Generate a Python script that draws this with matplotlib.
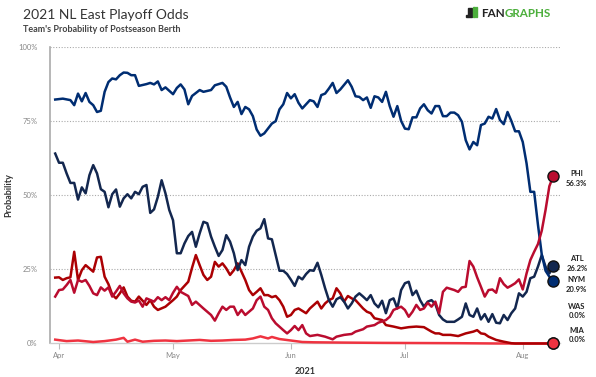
import matplotlib
matplotlib.use("Agg")
import matplotlib.pyplot as plt
import matplotlib.dates as mdates
import matplotlib.transforms as mtransforms
from matplotlib.patches import Rectangle
import numpy as np
import pandas as pd

plt.rcParams["font.family"] = ["Lato", "DejaVu Sans"]

SEASON_START = pd.Timestamp("2021-03-31")

# (days since Mar 31, playoff odds in %)
NYM = [(0, 82.2), (2, 82.5), (4, 82.0), (5, 80.3), (6, 84.2), (7, 81.6), (8, 84.4), (9, 81.4),
       (10, 80.3), (11, 78.0), (12, 78.4), (13, 84.8), (14, 88.1), (15, 89.3), (16, 89.0),
       (17, 90.4), (18, 91.3), (19, 91.2), (20, 90.4), (21, 90.4), (22, 86.8), (24, 87.4),
       (25, 87.8), (26, 87.3), (27, 88.3), (28, 85.4), (29, 86.3), (31, 84.0), (32, 86.1),
       (33, 87.3), (34, 85.6), (35, 80.6), (36, 83.4), (38, 85.4), (39, 84.8), (41, 85.4),
       (42, 87.0), (44, 87.8), (45, 86.5), (46, 82.9), (47, 79.7), (48, 81.4), (49, 77.3),
       (50, 79.7), (51, 78.9), (52, 76.6), (53, 72.1), (54, 70.0), (55, 70.8), (57, 74.1),
       (58, 74.9), (59, 78.9), (60, 80.6), (61, 84.4), (62, 82.6), (63, 84.0), (64, 81.1),
       (65, 79.2), (67, 82.0), (68, 81.6), (69, 79.7), (70, 83.7), (71, 84.2), (72, 85.9),
       (73, 87.8), (74, 84.4), (75, 85.6), (77, 88.7), (78, 86.5), (79, 83.3), (80, 83.1),
       (81, 82.0), (82, 82.9), (83, 79.4), (84, 83.3), (85, 82.9), (86, 81.4), (87, 84.8),
       (88, 80.0), (89, 76.4), (90, 80.0), (91, 75.0), (92, 72.4), (93, 72.2), (94, 76.2),
       (95, 76.2), (96, 79.2), (97, 80.6), (98, 78.6), (99, 77.5), (100, 80.0), (101, 80.0),
       (102, 76.6), (103, 76.6), (104, 77.8), (105, 77.8), (106, 76.9), (107, 74.7),
       (108, 68.5), (109, 65.4), (110, 67.9), (111, 66.8), (112, 73.6), (113, 74.1),
       (114, 76.4), (115, 75.8), (116, 79.0), (117, 75.3), (118, 73.9), (119, 78.0),
       (120, 75.0), (121, 71.5), (122, 71.5), (123, 67.9), (124, 60.7), (125, 51.1),
       (126, 51.1), (127, 40.0), (128, 30.0), (129, 24.5), (130, 22.5), (131, 20.9)]

ATL = [(0, 64.0), (1, 60.9), (2, 60.9), (3, 57.3), (4, 54.1), (5, 54.1), (6, 48.5), (7, 52.6),
       (8, 50.6), (9, 56.7), (10, 60.1), (11, 57.3), (12, 52.0), (13, 51.1), (14, 45.9),
       (15, 50.3), (16, 51.9), (17, 46.1), (18, 48.9), (19, 50.3), (20, 48.9), (21, 51.1),
       (22, 50.3), (23, 52.8), (24, 53.4), (25, 44.0), (26, 45.2), (27, 49.4), (28, 55.0),
       (29, 50.6), (30, 45.0), (31, 41.5), (32, 30.4), (33, 30.4), (34, 33.7), (35, 36.2),
       (36, 37.6), (37, 32.6), (38, 37.1), (39, 41.0), (40, 40.5), (41, 36.0), (42, 32.6),
       (43, 29.5), (44, 31.5), (45, 36.5), (46, 34.3), (47, 30.4), (48, 24.7), (49, 28.1),
       (50, 26.4), (51, 32.6), (52, 36.0), (53, 38.0), (54, 38.8), (55, 41.9), (56, 35.4),
       (57, 35.1), (58, 29.8), (59, 24.5), (60, 24.5), (61, 23.4), (62, 21.5), (63, 19.4),
       (64, 22.5), (65, 21.6), (66, 23.4), (67, 24.7), (68, 24.5), (69, 27.2), (70, 23.1),
       (71, 18.6), (72, 14.6), (73, 12.4), (74, 14.9), (75, 15.6), (76, 14.1), (77, 11.8),
       (78, 13.5), (79, 15.8), (80, 16.9), (81, 15.8), (82, 14.6), (83, 16.3), (84, 13.5),
       (85, 12.2), (86, 14.4), (87, 10.2), (88, 14.6), (89, 15.2), (90, 11.8), (91, 18.0),
       (92, 20.3), (93, 20.8), (94, 16.3), (95, 17.8), (96, 14.6), (97, 12.4), (98, 14.1),
       (99, 14.6), (100, 13.3), (101, 9.6), (102, 8.1), (103, 7.3), (104, 7.3), (105, 7.3),
       (106, 8.1), (107, 9.0), (108, 13.5), (109, 9.6), (110, 9.0), (111, 11.8), (112, 8.1),
       (113, 9.9), (114, 7.3), (115, 9.9), (116, 7.0), (117, 6.8), (118, 9.6), (119, 7.9),
       (120, 10.2), (121, 11.8), (122, 16.9), (123, 15.8), (124, 17.4), (125, 22.0),
       (126, 22.5), (127, 25.9), (128, 29.8), (129, 25.9), (130, 23.6), (131, 26.2)]

PHI = [(0, 15.8), (1, 18.0), (2, 18.2), (3, 19.7), (4, 21.4), (5, 17.1), (6, 21.4), (7, 20.8),
       (8, 21.4), (9, 19.4), (10, 16.9), (11, 16.3), (12, 18.9), (13, 17.8), (14, 18.9),
       (15, 15.8), (16, 17.5), (17, 19.4), (18, 16.9), (19, 15.2), (20, 14.1), (21, 13.8),
       (22, 14.5), (23, 12.4), (24, 15.2), (26, 14.1), (27, 15.6), (28, 14.6), (29, 15.6),
       (30, 14.6), (31, 17.1), (32, 19.1), (33, 17.4), (35, 16.0), (36, 13.0), (37, 14.1),
       (39, 11.8), (40, 10.7), (41, 9.6), (42, 7.7), (43, 10.2), (44, 12.4), (45, 11.3),
       (46, 12.4), (47, 12.4), (48, 9.6), (49, 11.3), (50, 9.6), (52, 11.8), (53, 14.6),
       (54, 15.8), (55, 12.4), (56, 11.3), (57, 8.5), (58, 6.8), (60, 4.5), (61, 3.4),
       (62, 4.5), (63, 5.9), (64, 4.5), (65, 6.2), (66, 3.4), (67, 2.5), (69, 2.9), (71, 2.3),
       (73, 1.4), (74, 2.3), (76, 2.9), (78, 3.2), (79, 4.0), (81, 4.8), (82, 5.7), (84, 6.2),
       (85, 7.0), (87, 7.9), (88, 9.0), (89, 11.3), (91, 12.4), (92, 11.3), (93, 9.0),
       (94, 10.7), (95, 13.0), (96, 11.3), (97, 11.8), (98, 13.7), (99, 12.4), (100, 14.1),
       (101, 10.2), (102, 17.4), (103, 18.8), (105, 18.0), (106, 17.4), (107, 18.9),
       (108, 19.1), (109, 27.8), (110, 25.9), (111, 22.3), (112, 19.1), (113, 15.8),
       (114, 18.0), (115, 18.2), (116, 17.1), (117, 22.0), (118, 20.0), (119, 18.8),
       (120, 19.5), (121, 20.3), (122, 21.6), (123, 18.2), (124, 23.6), (125, 28.1),
       (126, 30.9), (127, 33.5), (128, 38.0), (129, 45.0), (130, 53.0), (131, 56.3)]

WAS = [(0, 22.2), (1, 22.3), (2, 21.4), (3, 22.0), (4, 22.3), (5, 30.9), (6, 21.4), (7, 24.7),
       (8, 26.4), (9, 25.3), (10, 24.2), (11, 29.0), (12, 29.2), (13, 22.5), (14, 20.0),
       (15, 16.5), (16, 15.2), (17, 16.9), (18, 18.9), (19, 15.8), (20, 14.4), (21, 14.1),
       (22, 15.8), (24, 13.0), (25, 14.6), (26, 12.4), (27, 11.3), (29, 12.4), (31, 14.6),
       (32, 15.8), (33, 18.0), (35, 20.8), (36, 25.5), (37, 29.8), (38, 26.4), (39, 23.1),
       (40, 21.4), (41, 22.5), (42, 27.5), (43, 25.9), (44, 27.0), (45, 25.3), (46, 23.1),
       (47, 24.7), (48, 27.0), (49, 24.2), (50, 21.4), (51, 18.0), (52, 16.3), (53, 17.4),
       (54, 18.6), (55, 16.3), (56, 16.3), (57, 15.6), (58, 16.0), (59, 14.6), (60, 12.4),
       (61, 9.0), (62, 9.6), (63, 11.3), (64, 11.8), (66, 10.2), (67, 11.8), (69, 14.1),
       (70, 11.8), (71, 13.5), (72, 14.6), (73, 15.2), (74, 18.6), (75, 16.9), (76, 14.1),
       (77, 16.0), (78, 15.2), (79, 14.6), (81, 11.8), (82, 10.7), (83, 10.2), (84, 8.5),
       (86, 7.9), (87, 6.2), (89, 5.7), (91, 5.1), (93, 5.5), (95, 5.7), (97, 5.5), (99, 4.0),
       (100, 3.4), (101, 3.4), (102, 2.9), (104, 2.9), (106, 2.5), (108, 3.4), (110, 4.0),
       (111, 4.5), (112, 3.4), (113, 3.2), (114, 2.3), (116, 1.2), (118, 0.6), (120, 0.1),
       (121, 0.0), (131, 0.0)]

MIA = [(0, 1.3), (3, 0.8), (6, 1.0), (10, 0.5), (13, 0.8), (16, 1.3), (18, 1.9), (19, 0.6),
       (21, 1.3), (23, 0.6), (26, 0.9), (29, 1.0), (32, 0.8), (35, 1.0), (38, 1.2), (41, 0.9),
       (44, 1.0), (47, 1.2), (50, 1.3), (52, 1.7), (54, 2.4), (56, 1.7), (57, 2.2), (59, 1.5),
       (62, 1.0), (65, 0.5), (68, 0.4), (76, 0.3), (86, 0.2), (106, 0.1), (116, 0.0), (131, 0.0)]

TEAMS = ["PHI", "ATL", "NYM", "WAS", "MIA"]
SERIES = {"PHI": PHI, "ATL": ATL, "NYM": NYM, "WAS": WAS, "MIA": MIA}
COLORS = {"PHI": "#BA0C2F", "ATL": "#13274F", "NYM": "#002D72",
          "WAS": "#AB0003", "MIA": "#EF3340"}
FINAL = ["56.3%", "26.2%", "20.9%", "0.0%", "0.0%"]
# label centres, nudged apart so they don't collide
LABEL_Y = [55.7, 26.9, 19.8, 10.9, 2.9]

MONTHS = ["2021-04-01", "2021-05-01", "2021-06-01", "2021-07-01", "2021-08-01"]
MONTH_LABELS = ["Apr", "May", "Jun", "Jul", "Aug"]

GREEN = "#4CAF3C"


def to_xy(pairs):
    days = np.array([p[0] for p in pairs], dtype=float)
    vals = np.array([p[1] for p in pairs], dtype=float)
    return mdates.date2num(SEASON_START) + days, vals


fig = plt.figure(figsize=(5.96, 3.77), dpi=100)
ax = fig.add_axes([0.0839, 0.0889, 0.8557, 0.7872])

# draw from the bottom of the standings up
for team in ["MIA", "WAS", "ATL", "NYM", "PHI"]:
    x, y = to_xy(SERIES[team])
    ax.plot(x, y, color=COLORS[team], lw=1.8, solid_joinstyle="round",
            clip_on=False, zorder=3)

for team in ["PHI", "ATL", "NYM", "WAS", "MIA"]:
    x, y = to_xy(SERIES[team])
    ax.plot(x[-1], y[-1], "o", ms=8, color=COLORS[team], mec="#111111", mew=1.0,
            clip_on=False, zorder=5)

label_tr = mtransforms.blended_transform_factory(ax.transAxes, ax.transData)
for team, final, ly in zip(TEAMS, FINAL, LABEL_Y):
    ax.text(1.033, ly, f"{team}\n{final}", transform=label_tr, ha="center", va="center",
            fontsize=5.5, fontweight="bold", color="#222222", linespacing=1.45)

base = mdates.date2num(SEASON_START)
ax.set_xlim(base - 1.37, base + 132.8)
ax.set_ylim(0, 100)

ax.set_xticks(mdates.date2num(pd.to_datetime(MONTHS)))
ax.set_xticklabels(MONTH_LABELS)
ax.set_yticks([0, 25, 50, 75, 100])
ax.set_yticklabels(["0%", "25%", "50%", "75%", "100%"])
ax.tick_params(axis="x", length=4, width=0.8, color="#bbbbbb", labelsize=5.5,
               labelcolor="#888888", pad=2)
ax.tick_params(axis="y", length=0, labelsize=5.5, labelcolor="#888888", pad=9)

for v in [25, 50, 75, 100]:
    ax.axhline(v, color="#aaaaaa", lw=0.8, ls=(0, (1, 1.5)), zorder=1)

for side in ["top", "right"]:
    ax.spines[side].set_visible(False)
ax.spines["left"].set_color("#aaaaaa")
ax.spines["left"].set_linewidth(1.2)
ax.spines["bottom"].set_color("#cccccc")
ax.spines["bottom"].set_linewidth(1.0)

ax.set_xlabel("2021", fontsize=6.5, fontweight="bold", color="#333333", labelpad=6)
ax.set_ylabel("Probability", fontsize=6.5, fontweight="bold", color="#333333")
ax.yaxis.set_label_coords(-0.073, 0.5)

fig.text(0.0386, 0.9496, "2021 NL East Playoff Odds", fontsize=10, color="#333333",
         va="baseline")
fig.text(0.0386, 0.914, "Team's Probability of Postseason Berth", fontsize=6.5,
         fontweight="bold", color="#444444", va="baseline")

# FanGraphs wordmark
fan = fig.text(0.807, 0.9557, "FAN", fontsize=8.4, fontweight="bold", color="#222222",
               va="baseline")
ax.annotate("GRAPHS", xy=(1, 0), xycoords=fan, fontsize=8.4, fontweight="bold",
            color=GREEN, va="bottom", ha="left", annotation_clip=False)
for x0, w, h, c in [(0.7815, 0.003, 0.006, "#222222"), (0.786, 0.006, 0.024, "#222222"),
                    (0.7935, 0.003, 0.026, GREEN), (0.798, 0.003, 0.026, GREEN)]:
    fig.patches.append(Rectangle((x0, 0.955), w, h, transform=fig.transFigure,
                                 color=c, figure=fig))

fig.savefig("out.png", dpi=100)
